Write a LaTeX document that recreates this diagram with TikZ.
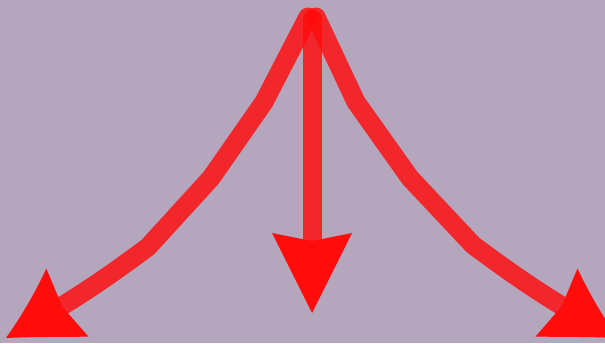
\documentclass[tikz,border=0pt]{standalone}
\usepackage{xcolor}
\usepackage{tikz}
\usetikzlibrary{arrows.meta,bending}
\definecolor{bgpurple}{RGB}{179,166,189}
\definecolor{arrowred}{RGB}{255,12,12}

\begin{document}
\begin{tikzpicture}[
  x=1pt, y=-1pt,
  redline/.style={draw=arrowred, draw opacity=0.82, line width=19pt,
    line cap=round, line join=round,
    -{Stealth[length=80pt, width=80pt, inset=8pt, line width=0pt, fill=arrowred, bend]}}
]
\fill[bgpurple] (0,0) rectangle (605,343);
\useasboundingbox (0,0) rectangle (605,343);
\clip (0,0) rectangle (605,343);
% start points at the top
\coordinate (topl) at (308,17);
\coordinate (topm) at (312,19);
\coordinate (topr) at (316,17);
% bends of the side arrows
\coordinate (l1) at (264,102);
\coordinate (l2) at (211,178);
\coordinate (l3) at (148,247);
\coordinate (r1) at (356,102);
\coordinate (r2) at (410,178);
\coordinate (r3) at (473,245);
% tips
\coordinate (endl) at (6,338);
\coordinate (endm) at (312,313);
\coordinate (endr) at (618,338);
\draw[redline] (topl) -- (l1) -- (l2) -- (l3) to[bend left=4] (endl);
\draw[redline] (topr) -- (r1) -- (r2) -- (r3) to[bend right=4] (endr);
\draw[redline] (topm) -- (endm);
\end{tikzpicture}
\end{document}
